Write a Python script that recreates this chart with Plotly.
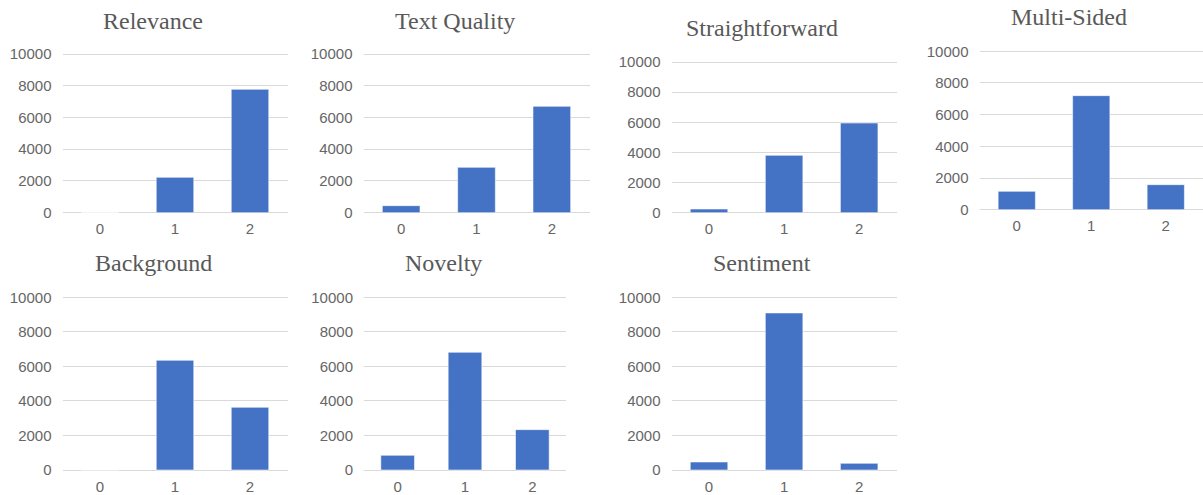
import plotly.graph_objects as go

categories = ["0", "1", "2"]
titles = ["Relevance", "Text Quality", "Straightforward", "Multi-Sided",
          "Background", "Novelty", "Sentiment"]
relevance = [0, 2227, 7773]
text_quality = [441, 2857, 6702]
straightforward = [243, 3805, 5951]
multi_sided = [1158, 7200, 1579]
background = [0, 6351, 3629]
novelty = [849, 6815, 2336]
sentiment = [463, 9093, 386]
y_ticks = [0, 2000, 4000, 6000, 8000, 10000]
y_tick_text = ["0", "2000", "4000", "6000", "8000", "10000"]

series = [relevance, text_quality, straightforward, multi_sided,
          background, novelty, sentiment]

W, H = 1203, 495
# panel boxes in pixels: (x0, x1, y_top(10000), y_bottom(0)), title (cx, cy)
boxes = [
    (62.5, 287.5, 54, 212.7, 153, 21),
    (363.5, 589.5, 54, 212.7, 455, 21),
    (671.5, 896.7, 62, 212.7, 762, 28),
    (979.5, 1203, 51.3, 209.7, 1069, 17),
    (62.5, 287.5, 297.3, 470, 153, 263),
    (364, 566, 297.3, 470, 443, 263),
    (671.5, 896.7, 297.3, 470, 762, 263),
]

PAD = 100  # data units of padding so the 0 and 10000 grid lines are drawn
fig = go.Figure()
annotations = []
tick_font = dict(family="Liberation Sans, Arial, sans-serif", size=15, color="#666666")
for i, (vals, title, b) in enumerate(zip(series, titles, boxes)):
    n = i + 1
    xa = "x" if n == 1 else f"x{n}"
    ya = "y" if n == 1 else f"y{n}"
    fig.add_trace(go.Bar(x=categories, y=vals, xaxis=xa, yaxis=ya,
                         marker=dict(color="#4472C4",
                                     line=dict(color="rgba(255,255,255,0.55)", width=1)),
                         showlegend=False, hoverinfo="x+y"))
    x0, x1, yt, yb, cx, cy = b
    pxu = (yb - yt) / 10000.0
    ytop = yt - PAD * pxu
    ybot = yb + PAD * pxu
    xkey = "xaxis" if n == 1 else f"xaxis{n}"
    ykey = "yaxis" if n == 1 else f"yaxis{n}"
    fig.layout[xkey] = dict(domain=[x0 / W, min(x1 / W, 1.0)], anchor=ya,
                            type="category", showgrid=False, showline=False,
                            zeroline=False, ticks="", tickfont=tick_font,
                            ticklabelstandoff=4, fixedrange=True, automargin=False)
    fig.layout[ykey] = dict(domain=[1 - ybot / H, 1 - ytop / H], anchor=xa,
                            range=[-PAD, 10000 + PAD], tickvals=y_ticks,
                            ticktext=y_tick_text,
                            showgrid=True, gridcolor="#D9D9D9", gridwidth=1,
                            zeroline=False,
                            showline=False, ticks="", tickfont=tick_font,
                            ticklabelstandoff=10, fixedrange=True, automargin=False)
    annotations.append(dict(text=title, x=cx / W, y=1 - cy / H, xref="paper", yref="paper",
                            xanchor="center", yanchor="middle", showarrow=False,
                            font=dict(family="Liberation Serif, Times New Roman, serif",
                                      size=24, color="#595959")))

fig.update_layout(width=W, height=H, margin=dict(l=0, r=0, t=0, b=0),
                  paper_bgcolor="white", plot_bgcolor="white", bargap=0.5,
                  annotations=annotations)
fig.write_html("out.html", config={"displayModeBar": False},
               post_script="document.body.style.margin='0';")
